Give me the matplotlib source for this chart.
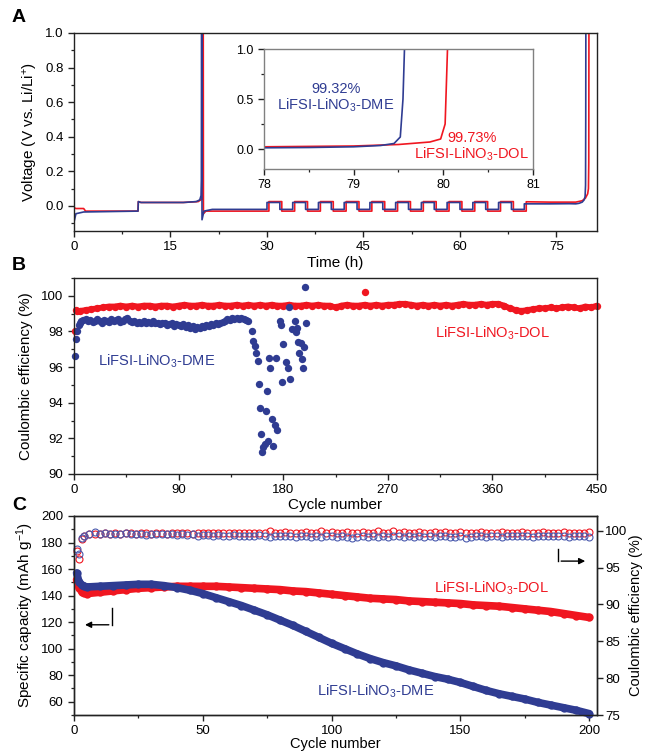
import numpy as np
import matplotlib
matplotlib.use('Agg')
import matplotlib.pyplot as plt
from matplotlib.ticker import MultipleLocator, FormatStrFormatter

plt.rcParams['font.family'] = ['Liberation Sans', 'DejaVu Sans']
plt.rcParams['mathtext.default'] = 'regular'
plt.rcParams['axes.linewidth'] = 1.0
plt.rcParams['xtick.direction'] = 'out'
plt.rcParams['ytick.direction'] = 'out'

BLUE = '#2f3c92'
RED = '#f01620'
W, H = 646, 753

# ---- Panel A: voltage profiles (h, V) ----
dme_pre_t = [0, 0.02, 0.3, 1.5, 9.95, 10.0, 10.4, 17.0, 19.0, 19.55, 19.75, 19.8, 19.83, 19.86, 19.9, 20.2, 21.5, 30.0]
dme_pre_v = [1.0, -0.09, -0.045, -0.035, -0.03, 0.025, 0.02, 0.02, 0.025, 0.035, 0.06, 0.15, 1.05, 1.05, -0.08, -0.03, -0.02, -0.02]
dme_sw_t = [30, 32, 34, 36, 38, 40, 42, 44, 46, 48, 50, 52, 54, 56, 58, 60, 62, 64, 66, 68, 70]
dme_sw_v = [0.02, -0.02, 0.02, -0.02, 0.02, -0.02, 0.02, -0.02, 0.02, -0.02, 0.02,
            -0.02, 0.02, -0.02, 0.02, -0.02, 0.02, -0.02, 0.02, -0.02, 0.012]
dme_post_t = [74, 77, 78.0, 78.5, 79.0, 79.3, 79.45, 79.52, 79.55, 79.57]
dme_post_v = [0.012, 0.013, 0.012, 0.015, 0.022, 0.035, 0.055, 0.12, 0.5, 1.1]

dol_pre_t = [0, 0.02, 0.3, 1.5, 1.8, 9.95, 10.0, 10.4, 17.0, 19.3, 19.9, 20.02, 20.06, 20.09, 20.12, 20.5, 22.0, 30.3]
dol_pre_v = [0.12, -0.01, -0.015, -0.015, -0.03, -0.03, 0.025, 0.02, 0.02, 0.025, 0.04, 0.1, 1.05, 1.05, -0.045, -0.03, -0.03, -0.03]
dol_sw_t = [30.3, 32.3, 34.3, 36.3, 38.3, 40.3, 42.3, 44.3, 46.3, 48.3, 50.3, 52.3, 54.3, 56.3, 58.3, 60.3, 62.3, 64.3, 66.3, 68.3, 70.3]
dol_sw_v = [0.025, -0.03, 0.025, -0.03, 0.025, -0.03, 0.025, -0.03, 0.025, -0.03, 0.025,
            -0.03, 0.025, -0.03, 0.025, -0.03, 0.025, -0.03, 0.025, -0.03, 0.024]
dol_post_t = [74, 78.0, 79.0, 79.5, 79.85, 79.97, 80.02, 80.05]
dol_post_v = [0.022, 0.022, 0.03, 0.045, 0.07, 0.1, 0.25, 1.1]

# ---- Panel B: Coulombic efficiency (%) ----
dme_b_cyc = [1, 2, 3, 4, 5, 6] + list(range(8, 151, 2))
dme_b_ce = [96.6, 97.6, 98.0, 98.35, 98.5, 98.6,
            98.65, 98.7, 98.6, 98.65, 98.55, 98.6, 98.7, 98.6, 98.5, 98.65, 98.6,
            98.55, 98.7, 98.6, 98.65, 98.7, 98.55, 98.6, 98.7, 98.75, 98.6, 98.55,
            98.6, 98.5, 98.55, 98.45, 98.6, 98.5, 98.55, 98.45, 98.6, 98.5,
            98.45, 98.4, 98.5, 98.45, 98.35, 98.4, 98.45, 98.3, 98.4, 98.35,
            98.3, 98.4, 98.25, 98.35, 98.2, 98.3, 98.15, 98.25, 98.2, 98.3, 98.25, 98.35, 98.3, 98.4,
            98.35, 98.45, 98.4, 98.5, 98.55, 98.6, 98.7, 98.65, 98.75, 98.7, 98.75, 98.7,
            98.75, 98.7, 98.65, 98.6]
dme_b_late_cyc = [153, 154, 156, 157, 158, 159, 166, 160, 165, 170, 173, 175, 161, 167, 164, 163, 162,
                  171, 168, 174, 169, 177, 178, 180, 182, 184, 179, 186, 190, 188, 191, 192, 193,
                  195, 194, 196, 198, 197, 200, 185, 199]
dme_b_late_ce = [98.04, 97.49, 97.21, 96.78, 96.33, 95.06, 94.65, 93.72, 93.53, 93.07, 92.74, 92.49,
                 92.23, 91.86, 91.71, 91.53, 91.25, 91.58, 96.52, 96.52, 95.94, 98.56, 98.38, 97.3,
                 96.27, 95.96, 95.16, 95.35, 98.57, 98.14, 97.95, 98.19, 97.39, 97.34, 96.78, 96.46,
                 97.15, 95.96, 98.45, 99.39, 100.47]

dol_b_cyc = [1, 2, 3] + list(range(5, 451, 5))
dol_b_ce = [98.0, 99.2, 99.15,
            99.15, 99.2, 99.25, 99.3, 99.35, 99.4, 99.4, 99.45, 99.4, 99.45,
            99.4, 99.45, 99.45, 99.4, 99.45, 99.45, 99.4, 99.45, 99.5, 99.45,
            99.45, 99.5, 99.45, 99.45, 99.5, 99.45, 99.45, 99.5, 99.45, 99.5,
            99.45, 99.5, 99.45, 99.5, 99.45, 99.45, 99.5, 99.45, 99.45, 99.5,
            99.45, 99.5, 99.45, 99.45, 99.35, 99.45, 99.5, 99.45, 99.45, 99.5,
            99.45, 99.5, 99.45, 99.5, 99.5, 99.55, 99.55, 99.5, 99.45, 99.5,
            99.45, 99.5, 99.45, 99.5, 99.45, 99.5, 99.55, 99.5, 99.5, 99.55,
            99.5, 99.55, 99.55, 99.45, 99.3, 99.2, 99.15, 99.2, 99.25, 99.3,
            99.3, 99.35, 99.3, 99.35, 99.4, 99.35, 99.3, 99.4, 99.35, 99.45]
dol_b_out_cyc = [250]
dol_b_out_ce = [100.2]

# ---- Panel C: capacity (mAh/g) and CE (%) ----
cap_cyc = [1, 2, 3, 4] + list(range(5, 201, 5))
dol_cap = [152, 146, 143, 142,
           141.5, 142.5, 143.5, 144.5, 145.5, 146, 146.5, 147, 147, 147,
           147, 146.5, 146, 145.5, 145, 144.5, 143.5, 143, 142, 141,
           140, 139, 138, 137.5, 137, 136, 135.5, 135, 134.5, 134,
           133, 132.5, 132, 131, 130, 129, 128, 126.5, 125, 123.5]
dme_cap = [157, 150, 148, 147,
           146.5, 147, 147.5, 148, 148.5, 148.5, 147.5, 146, 144, 141.5,
           138.5, 135.5, 132.5, 129, 125.5, 121.5, 117.5, 113, 108.5, 104,
           100, 96, 92.5, 89.5, 87, 84, 81.5, 79, 77, 74.5,
           71.5, 68.5, 66, 64, 62, 59.5, 57.5, 55.5, 53.5, 51]

ce_cyc = [1, 2, 3, 4] + list(range(6, 201, 2))
dol_ce = [97.3, 96.1, 98.9, 99.3,
          99.5, 99.6, 99.55, 99.65, 99.6, 99.7, 99.6, 99.65, 99.7, 99.6, 99.65, 99.7, 99.6, 99.65, 99.7, 99.6, 99.65, 99.7,
          99.65, 99.7, 99.6, 99.7, 99.65, 99.75, 99.7, 99.65, 99.7, 99.75, 99.7, 99.65, 99.7, 99.75, 99.7, 99.65, 99.7, 100.0, 99.75, 99.7,
          99.8, 99.7, 99.75, 99.7, 99.8, 99.75, 99.7, 99.95, 99.75, 99.8, 99.7, 99.75, 99.8, 99.7, 99.75, 99.8, 99.75, 99.7, 99.95, 99.75,
          99.7, 99.95, 99.75, 99.8, 99.7, 99.75, 99.8, 99.75, 99.7, 99.8, 99.75, 99.8, 99.7, 99.75, 99.8, 99.75, 99.7, 99.75, 99.8, 99.75,
          99.7, 99.75, 99.8, 99.75, 99.7, 99.75, 99.8, 99.7, 99.75, 99.7, 99.8, 99.75, 99.7, 99.75, 99.8, 99.7, 99.75, 99.7, 99.75, 99.8]
dme_ce = [97.5, 96.9, 99.0, 99.3,
          99.6, 99.8, 99.5, 99.7, 99.5, 99.6, 99.5, 99.7, 99.6, 99.5, 99.6, 99.45, 99.55, 99.5, 99.6, 99.5, 99.55, 99.45,
          99.5, 99.4, 99.5, 99.35, 99.45, 99.4, 99.3, 99.45, 99.35, 99.3, 99.4, 99.35, 99.25, 99.35, 99.3, 99.4, 99.3, 99.2, 99.35, 99.3,
          99.25, 99.35, 99.2, 99.3, 99.25, 99.15, 99.3, 99.2, 99.3, 99.25, 99.15, 99.3, 99.2, 98.95, 99.1, 99.25, 99.2, 99.3, 99.15, 99.25,
          99.2, 99.3, 99.25, 99.15, 99.3, 99.2, 99.25, 99.15, 99.3, 99.2, 99.25, 99.3, 99.2, 99.15, 99.3, 98.95, 99.2, 99.25, 99.3, 99.2,
          99.25, 99.3, 99.2, 99.25, 99.3, 99.35, 99.25, 99.3, 99.2, 99.3, 99.25, 99.35, 99.3, 99.25, 99.3, 99.2, 99.3, 99.25, 99.3, 99.2]


def square_wave(pre_t, pre_v, sw_t, sw_v, post_t, post_v):
    # hold each level until the next switching time
    t, v = list(pre_t), list(pre_v)
    for ts, vs in zip(sw_t, sw_v):
        t += [ts, ts]
        v += [v[-1], vs]
    t += list(post_t)
    v += list(post_v)
    return t, v


def style(ax, fs=9.5):
    for s in ax.spines.values():
        s.set_color('#222222')
    ax.tick_params(which='both', top=False, right=False, labelsize=fs, color='#222222')
    ax.tick_params(which='major', length=4, width=1.0)
    ax.tick_params(which='minor', length=2.5, width=0.9)


def box(l, t, r, b):
    return [l / W, 1 - b / H, (r - l) / W, (b - t) / H]


fig = plt.figure(figsize=(W / 100, H / 100), dpi=100)

# ---------------- A ----------------
ax_a = fig.add_axes(box(74, 33, 597, 231))
dme_t, dme_v = square_wave(dme_pre_t, dme_pre_v, dme_sw_t, dme_sw_v, dme_post_t, dme_post_v)
dol_t, dol_v = square_wave(dol_pre_t, dol_pre_v, dol_sw_t, dol_sw_v, dol_post_t, dol_post_v)
ax_a.plot(dol_t, dol_v, color=RED, lw=1.2)
ax_a.plot(dme_t, dme_v, color=BLUE, lw=1.2)
ax_a.set_xlim(0, 81.3)
ax_a.set_ylim(-0.145, 1.0)
ax_a.xaxis.set_major_locator(MultipleLocator(15))
ax_a.xaxis.set_minor_locator(MultipleLocator(7.5))
ax_a.yaxis.set_major_locator(MultipleLocator(0.2))
ax_a.yaxis.set_minor_locator(MultipleLocator(0.1))
ax_a.yaxis.set_major_formatter(FormatStrFormatter('%.1f'))
ax_a.set_xlabel('Time (h)', fontsize=11, labelpad=2)
ax_a.set_ylabel('Voltage (V vs. Li/Li$^{+}$)', fontsize=11, labelpad=4)
style(ax_a)
fig.text(12 / W, 1 - 18 / H, 'A', fontsize=14, fontweight='bold', va='center')

ins = fig.add_axes(box(264, 49, 533, 169))
ins.plot(dol_t, dol_v, color=RED, lw=1.2)
ins.plot(dme_t, dme_v, color=BLUE, lw=1.2)
ins.set_xlim(78, 81)
ins.set_ylim(-0.2, 1.0)
ins.xaxis.set_major_locator(MultipleLocator(1))
ins.xaxis.set_minor_locator(MultipleLocator(0.5))
ins.yaxis.set_major_locator(MultipleLocator(0.5))
ins.yaxis.set_minor_locator(MultipleLocator(0.25))
ins.yaxis.set_major_formatter(FormatStrFormatter('%.1f'))
style(ins, fs=9)
for s in ins.spines.values():
    s.set_color('#808080')
ins.text(78.8, 0.51, '99.32%\nLiFSI-LiNO$_3$-DME', color=BLUE, fontsize=10.5,
         ha='center', va='center', linespacing=1.0)
ins.text(80.32, 0.02, '99.73%\nLiFSI-LiNO$_3$-DOL', color=RED, fontsize=10.5,
         ha='center', va='center', linespacing=1.0)

# ---------------- B ----------------
ax_b = fig.add_axes(box(74, 278, 597, 474))
ax_b.plot(dol_b_cyc[1:], dol_b_ce[1:], '-', color=RED, lw=4.2, solid_capstyle='round')
ax_b.plot(dol_b_cyc, dol_b_ce, 'o', color=RED, ms=5.3, mew=0, clip_on=False)
ax_b.plot(dol_b_out_cyc, dol_b_out_ce, 'o', color=RED, ms=5.3, mew=0)
ax_b.plot(dme_b_cyc, dme_b_ce, 'o', color=BLUE, ms=5.3, mew=0, clip_on=False)
ax_b.plot(dme_b_late_cyc, dme_b_late_ce, 'o', color=BLUE, ms=5.3, mew=0)
ax_b.set_xlim(0, 450)
ax_b.set_ylim(90, 101)
ax_b.xaxis.set_major_locator(MultipleLocator(90))
ax_b.xaxis.set_minor_locator(MultipleLocator(45))
ax_b.yaxis.set_major_locator(MultipleLocator(2))
ax_b.yaxis.set_minor_locator(MultipleLocator(1))
ax_b.set_xlabel('Cycle number', fontsize=11, labelpad=1)
ax_b.set_ylabel('Coulombic efficiency (%)', fontsize=11, labelpad=6)
style(ax_b)
ax_b.text(71, 96.35, 'LiFSI-LiNO$_3$-DME', color=BLUE, fontsize=10.5, ha='center', va='center')
ax_b.text(360, 97.9, 'LiFSI-LiNO$_3$-DOL', color=RED, fontsize=10.5, ha='center', va='center')
fig.text(12 / W, 1 - 265 / H, 'B', fontsize=14, fontweight='bold', va='center')

# ---------------- C ----------------
ax_c = fig.add_axes(box(74, 516, 597, 715))
ax_r = ax_c.twinx()
ax_r.plot(ce_cyc, dol_ce, 'o', mfc='none', mec=RED, ms=5.0, mew=0.8, clip_on=False)
ax_r.plot(ce_cyc, dme_ce, 'o', mfc='none', mec='#4a5aae', ms=5.0, mew=0.8, clip_on=False)
ax_c.plot(cap_cyc, dol_cap, '-o', color=RED, lw=5.5, ms=6, mew=0,
          solid_capstyle='round', clip_on=False)
ax_c.plot(cap_cyc, dme_cap, '-o', color=BLUE, lw=5.5, ms=6, mew=0,
          solid_capstyle='round', clip_on=False)
ax_c.set_zorder(ax_r.get_zorder() + 1)
ax_c.patch.set_visible(False)
ax_c.set_xlim(0, 203)
ax_c.set_ylim(50, 200)
ax_r.set_ylim(75, 102)
ax_c.xaxis.set_major_locator(MultipleLocator(50))
ax_c.xaxis.set_minor_locator(MultipleLocator(25))
ax_c.yaxis.set_major_locator(MultipleLocator(20))
ax_c.yaxis.set_minor_locator(MultipleLocator(10))
ax_r.yaxis.set_major_locator(MultipleLocator(5))
ax_c.set_xlabel('Cycle number', fontsize=10.5, labelpad=0)
ax_c.set_ylabel('Specific capacity (mAh g$^{-1}$)', fontsize=11, labelpad=4)
ax_r.set_ylabel('Coulombic efficiency (%)', fontsize=10.5, labelpad=1)
style(ax_c)
style(ax_r)
ax_r.tick_params(which='both', right=True, left=False, labelright=True, labelleft=False, pad=2)
ax_c.text(162, 145.5, 'LiFSI-LiNO$_3$-DOL', color=RED, fontsize=10.5, ha='center', va='center')
ax_c.text(117, 68, 'LiFSI-LiNO$_3$-DME', color=BLUE, fontsize=10.5, ha='center', va='center')
# direction markers for the two y axes
ax_c.annotate('', xy=(3.2, 118), xytext=(14.6, 118),
              arrowprops=dict(arrowstyle='-|>', color='black', lw=1.0, mutation_scale=9))
ax_c.plot([14.6, 14.6], [118, 131], color='black', lw=1.0)
ax_c.annotate('', xy=(199.5, 166), xytext=(188, 166),
              arrowprops=dict(arrowstyle='-|>', color='black', lw=1.0, mutation_scale=9))
ax_c.plot([188, 188], [166, 175], color='black', lw=1.0)
fig.text(12 / W, 1 - 506 / H, 'C', fontsize=14, fontweight='bold', va='center')

fig.savefig('out.png', dpi=100)
